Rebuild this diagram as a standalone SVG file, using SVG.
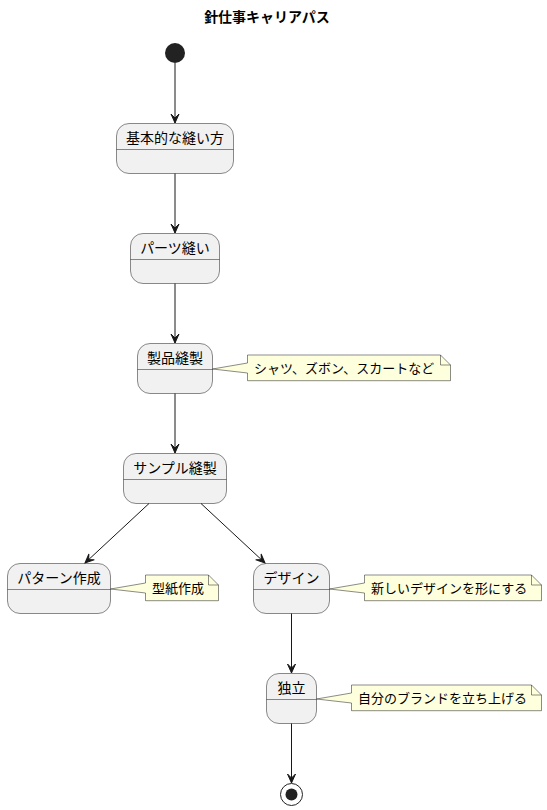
<svg xmlns="http://www.w3.org/2000/svg" width="547" height="810" viewBox="0 0 547 810">
<style>
text{font-family:"Liberation Sans","Noto Sans CJK JP",sans-serif;fill:#000}
.st rect{fill:#F1F1F1;stroke:#181818;stroke-width:0.5}
.st line{stroke:#181818;stroke-width:0.5}
.st text{font-size:14px;text-anchor:middle}
.nt path{fill:#FEFFDD;stroke:#181818;stroke-width:0.5}
.nt text{font-size:13px}
.edge{stroke:#181818;stroke-width:1;fill:none;marker-end:url(#ah)}
</style>
<defs>
<marker id="ah" markerUnits="userSpaceOnUse" markerWidth="12" markerHeight="10" viewBox="-1 -5 12 10" refX="9" refY="0" orient="auto">
<path d="M0,-4 L9,0 L0,4 L4,0 Z" fill="#181818" stroke="#181818" stroke-width="1"/>
</marker>
</defs>
<rect width="547" height="810" fill="#FFFFFF"/>
<text x="267" y="22" font-size="14" font-weight="bold" text-anchor="middle">針仕事キャリアパス</text>

<g id="start"><circle cx="175" cy="53" r="10" fill="#222222"/></g>

<g id="s1" class="st"><rect x="116.5" y="123.5" width="117" height="50" rx="12.5"/><line x1="116.5" y1="149.5" x2="233.5" y2="149.5"/><text x="175" y="142.5">基本的な縫い方</text></g>
<g id="s2" class="st"><rect x="130.5" y="233.5" width="89" height="50" rx="12.5"/><line x1="130.5" y1="259.5" x2="219.5" y2="259.5"/><text x="175" y="252.5">パーツ縫い</text></g>
<g id="s3" class="st"><rect x="137.5" y="343.5" width="75" height="50" rx="12.5"/><line x1="137.5" y1="369.5" x2="212.5" y2="369.5"/><text x="175" y="362.5">製品縫製</text></g>
<g id="s4" class="st"><rect x="123.5" y="453.5" width="103" height="50" rx="12.5"/><line x1="123.5" y1="479.5" x2="226.5" y2="479.5"/><text x="175" y="472.5">サンプル縫製</text></g>
<g id="s5" class="st"><rect x="7.5" y="563.5" width="103" height="50" rx="12.5"/><line x1="7.5" y1="589.5" x2="110.5" y2="589.5"/><text x="59" y="582.5">パターン作成</text></g>
<g id="s6" class="st"><rect x="253.5" y="563.5" width="76" height="50" rx="12.5"/><line x1="253.5" y1="589.5" x2="329.5" y2="589.5"/><text x="291.5" y="582.5">デザイン</text></g>
<g id="s7" class="st"><rect x="266.5" y="673.5" width="50" height="50" rx="12.5"/><line x1="266.5" y1="699.5" x2="316.5" y2="699.5"/><text x="291.5" y="692.5">独立</text></g>

<g id="end"><circle cx="291.5" cy="794.5" r="11" fill="none" stroke="#222222" stroke-width="1"/><circle cx="291.5" cy="794.5" r="6" fill="#222222"/></g>

<g id="n1" class="nt"><path d="M247.5,355 L247.5,363 L212.5,369 L247.5,373 L247.5,380.7 L450.5,380.7 L450.5,365 L440.5,355 Z M440.5,355 L440.5,365 L450.5,365"/><text x="254" y="373">シャツ、ズボン、スカートなど</text></g>
<g id="n2" class="nt"><path d="M145.5,575 L145.5,583 L110.5,589 L145.5,593 L145.5,600.7 L218.5,600.7 L218.5,585 L208.5,575 Z M208.5,575 L208.5,585 L218.5,585"/><text x="152" y="593">型紙作成</text></g>
<g id="n3" class="nt"><path d="M364.5,575 L364.5,583 L329.5,589 L364.5,593 L364.5,600.7 L541.5,600.7 L541.5,585 L531.5,575 Z M531.5,575 L531.5,585 L541.5,585"/><text x="371" y="593">新しいデザインを形にする</text></g>
<g id="n4" class="nt"><path d="M351.5,685 L351.5,693 L316.5,699 L351.5,703 L351.5,710.7 L541.5,710.7 L541.5,695 L531.5,685 Z M531.5,685 L531.5,695 L541.5,695"/><text x="358" y="703">自分のブランドを立ち上げる</text></g>

<g id="connectors">
<line class="edge" x1="175" y1="63" x2="175" y2="123"/>
<line class="edge" x1="175" y1="173.5" x2="175" y2="233"/>
<line class="edge" x1="175" y1="283.5" x2="175" y2="343"/>
<line class="edge" x1="175" y1="393.5" x2="175" y2="453"/>
<line class="edge" x1="149" y1="503.5" x2="85" y2="563"/>
<line class="edge" x1="201" y1="503.5" x2="265" y2="563"/>
<line class="edge" x1="291.5" y1="613.5" x2="291.5" y2="673"/>
<line class="edge" x1="291.5" y1="723.5" x2="291.5" y2="783"/>
</g>
</svg>
